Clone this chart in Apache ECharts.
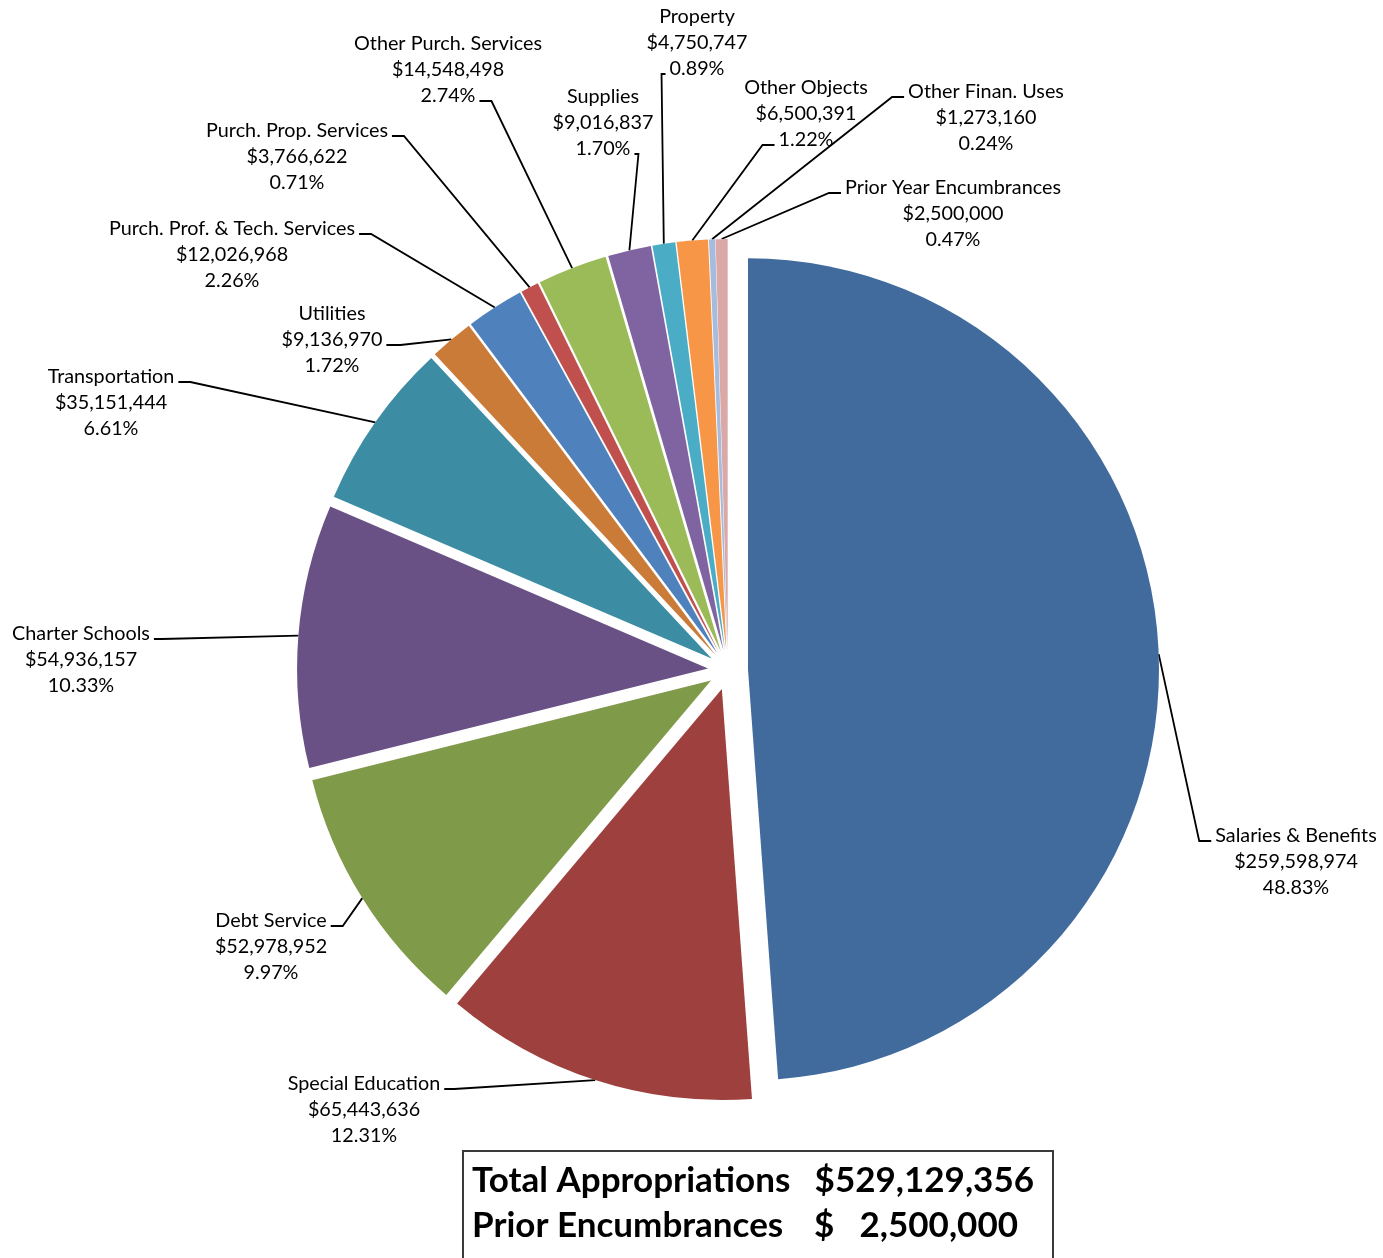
<!DOCTYPE html>
<html>
<head>
<meta charset="utf-8">
<script src="https://cdn.jsdelivr.net/npm/echarts@6/dist/echarts.min.js"></script>
<style>
html,body{margin:0;padding:0;background:#ffffff;}
#chart{width:1383px;height:1258px;}
</style>
</head>
<body>
<div id="chart"></div>
<script>
// ---------------- data ----------------
const categories = [
  'Salaries & Benefits', 'Special Education', 'Debt Service', 'Charter Schools',
  'Transportation', 'Utilities', 'Purch. Prof. & Tech. Services', 'Purch. Prop. Services',
  'Other Purch. Services', 'Supplies', 'Property', 'Other Objects',
  'Other Finan. Uses', 'Prior Year Encumbrances'
];
const amounts = [
  259598974, 65443636, 52978952, 54936157,
  35151444, 9136970, 12026968, 3766622,
  14548498, 9016837, 4750747, 6500391,
  1273160, 2500000
];
const sliceColors = [
  '#416A9D', '#9E413E', '#7F9A48', '#695185', '#3C8DA3', '#CB7B38',
  '#4F81BD', '#C0504D', '#9BBB59', '#8064A2', '#4BACC6', '#F79646',
  '#A7BBDC', '#DAA8A7'
];
const summaryLabels = ['Total Appropriations', 'Prior Encumbrances'];
const summaryAmounts = [529129356, 2500000];

// ---------------- layout ----------------
const PIE = { cx: 728, cy: 670, r: 411, explode: 20 };
const FONT = 'Lato';
const LABEL_SIZE = 19.8;
const LINE_H = 26;
// [text centre x, first-line baseline y, leader side (L/R), line the leader meets, nub length]
const labelSpots = [
  [1296, 842, 'L', 0, 12],
  [364, 1090, 'R', 0, 10],
  [271, 927, 'R', 0, 12],
  [81, 640, 'R', 0, 8],
  [111, 383, 'R', 0, 12],
  [332, 320, 'R', 1, 14],
  [232, 235, 'R', 0, 12],
  [297, 137, 'R', 0, 12],
  [448, 50, 'R', 2, 12],
  [603, 103, 'R', 2, 4],
  [697, 23, 'L', 2, 4],
  [806, 94, 'L', 2, 12],
  [986, 98, 'L', 0, 12],
  [953, 194, 'L', 0, 12]
];

const measureCtx = document.createElement('canvas').getContext('2d');
function textWidth(str, size, weight) {
  measureCtx.font = (weight || 'normal') + ' ' + size + 'px ' + FONT;
  return measureCtx.measureText(str).width;
}
const money = v => '$' + v.toLocaleString('en-US');

function leaderLayout(params) {
  const i = params.dataIndex;
  const spot = labelSpots[i];
  const cx = spot[0], b0 = spot[1], side = spot[2], k = spot[3], nub = spot[4];
  const top = b0 - LINE_H / 2 - 0.32 * LABEL_SIZE;
  const lines = String(params.text).split('\n');
  const w = textWidth(lines[k] || '', LABEL_SIZE);
  const yb = b0 + k * LINE_H - 1;
  const res = { x: cx, y: top, align: 'center', verticalAlign: 'top' };
  if (params.labelLinePoints && params.labelLinePoints.length) {
    const start = params.labelLinePoints[0];
    let pts;
    if (side === 'L') {
      const e = cx - w / 2 - 4;
      pts = [start, [e - nub, yb], [e, yb]];
    } else {
      const e = cx + w / 2 + 4;
      pts = [start, [e + nub, yb], [e, yb]];
    }
    res.labelLinePoints = pts;
  }
  return res;
}

const total = amounts.reduce((a, b) => a + b, 0);
let cum = 0;
const series = amounts.map((v, i) => {
  const mid = (cum + v / 2) / total * 2 * Math.PI;
  cum += v;
  const center = [PIE.cx + PIE.explode * Math.sin(mid), PIE.cy - PIE.explode * Math.cos(mid)];
  return {
    type: 'pie',
    center: center,
    radius: PIE.r,
    startAngle: 90,
    clockwise: true,
    avoidLabelOverlap: false,
    silent: true,
    animation: false,
    emphasis: { disabled: true },
    data: categories.map((name, j) => ({
      name: name,
      value: amounts[j],
      itemStyle: { color: j === i ? sliceColors[j] : 'rgba(0,0,0,0)' },
      label: { show: j === i },
      labelLine: { show: j === i }
    })),
    label: {
      position: 'outside',
      color: '#000',
      fontFamily: FONT,
      fontSize: LABEL_SIZE,
      lineHeight: LINE_H,
      formatter: p => p.name + '\n' + money(p.value) + '\n' + p.percent.toFixed(2) + '%'
    },
    labelLine: {
      length: 10, length2: 10, smooth: false,
      lineStyle: { color: '#000', width: 1.8 }
    },
    labelLayout: leaderLayout
  };
});

const BOX = { x: 463, y: 1151, w: 590, h: 140 };
const BOLD = 35;
const chart = echarts.init(document.getElementById('chart'), null, { renderer: 'canvas' });
chart.setOption({
  backgroundColor: '#ffffff',
  animation: false,
  series: series,
  graphic: [
    { type: 'rect', shape: { x: BOX.x, y: BOX.y, width: BOX.w, height: BOX.h },
      style: { fill: '#ffffff', stroke: '#3a3a3a', lineWidth: 2 } },
    { type: 'text', style: { x: 472, y: 1181, text: summaryLabels[0], fontFamily: FONT, fontWeight: 'bold', fontSize: BOLD, fill: '#000', align: 'left', verticalAlign: 'middle' } },
    { type: 'text', style: { x: 1034, y: 1181, text: money(summaryAmounts[0]), fontFamily: FONT, fontWeight: 'bold', fontSize: BOLD, fill: '#000', align: 'right', verticalAlign: 'middle' } },
    { type: 'text', style: { x: 472, y: 1226, text: summaryLabels[1], fontFamily: FONT, fontWeight: 'bold', fontSize: BOLD, fill: '#000', align: 'left', verticalAlign: 'middle' } },
    { type: 'text', style: { x: 814, y: 1226, text: '$', fontFamily: FONT, fontWeight: 'bold', fontSize: BOLD, fill: '#000', align: 'left', verticalAlign: 'middle' } },
    { type: 'text', style: { x: 1018, y: 1226, text: summaryAmounts[1].toLocaleString('en-US'), fontFamily: FONT, fontWeight: 'bold', fontSize: BOLD, fill: '#000', align: 'right', verticalAlign: 'middle' } }
  ]
});
</script>
</body>
</html>
